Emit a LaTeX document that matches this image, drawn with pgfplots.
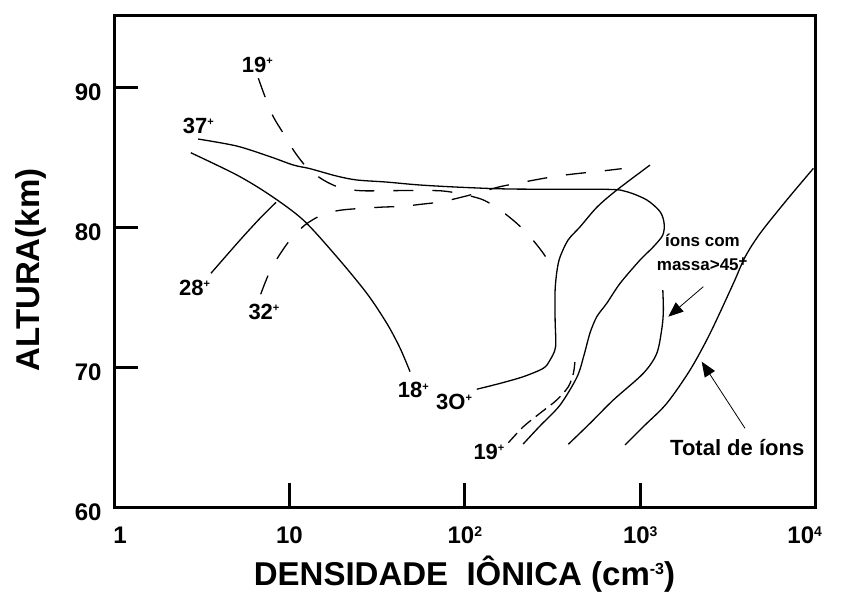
\documentclass[border=0pt]{standalone}
\usepackage{fontspec}
\setmainfont{Liberation Sans}
\usepackage{pgfplots}
\pgfplotsset{compat=1.18}
\usetikzlibrary{arrows.meta}

\newcommand\sz[1]{\fontsize{#1}{#1}\selectfont}
% ion label: bold number with a small raised plus sign
\newcommand\ion[1]{\bfseries\sz{22}#1\raisebox{7.5pt}{\sz{11}+}}

\begin{document}
\begin{tikzpicture}
\path[use as bounding box] (0pt,0pt) rectangle (841pt,-599pt);
\begin{axis}[
  at={(114pt,-507pt)}, anchor=south west,
  scale only axis, width=701.7pt, height=491.3pt,
  xmode=log, xmin=1, xmax=10000, ymin=60, ymax=95.17,
  axis line style={line width=3pt},
  xtick={1,10,100,1000,10000},
  xticklabels={{\hspace*{12pt}1},{10},{10\raisebox{7pt}{\sz{14}2}},{10\raisebox{7pt}{\sz{14}3}},{10\raisebox{7pt}{\sz{14}4}\hspace*{22pt}}},
  xminorticks=false, yminorticks=false,
  ytick={60,70,80,90}, yticklabels={60,70,80,90},
  tick align=inside, xtick pos=bottom, ytick pos=left,
  major tick length=24pt,
  tick style={black, line width=3pt},
  xticklabel style={anchor=base, inner sep=0pt, yshift=-36pt, font=\bfseries\sz{24}},
  yticklabel style={anchor=base east, inner sep=0pt, xshift=-12.3pt, yshift=-13pt, font=\bfseries\sz{24}},
  clip=false,
  cycle list={{black,solid}},
  every axis plot/.append style={line width=1.3pt, smooth, tension=0.5, no markers},
]
% 37+ : long solid curve with the loop near 10^3
\addplot coordinates {(3.02,86.34) (5.01,85.84) (7.75,85.08) (10.53,84.48) (13.1,84.22) (18.6,83.69) (24.2,83.41) (35.9,83.26) (55.5,83.05) (98.0,82.88) (189,82.76) (644,82.74) (838,82.57) (1089,81.98) (1297,81.14) (1367,80.31) (1344,79.47) (1188,78.63) (997,77.68) (767,76.01) (644,74.58) (565,73.62) (517,72.46) (478,70.88) (436,69.31) (349,67.30) (268,65.80) (215,64.51)};
% 30+
\addplot coordinates {(116.9,68.43) (158.8,68.85) (215.6,69.33) (280,69.93) (306,70.52) (329,71.47) (327,73.39) (327,75.53) (335.6,76.96) (349,77.90) (387.7,79.11) (454,80.06) (567,81.47) (735,82.69) (1137,84.48)};
% ions with mass > 45
\addplot coordinates {(1344,75.53) (1354,74.10) (1331,72.88) (1242,71.00) (1041,69.57) (702,67.66) (517,65.99) (389,64.49)};
% total ions
\addplot coordinates {(9703,84.24) (6843,81.98) (4822,79.59) (3959,77.90) (3395,76.01) (2500,72.43) (1923,69.81) (1416,67.42) (1065,65.87) (819,64.44)};
% 18+
\addplot coordinates {(2.74,85.36) (5.01,83.77) (7.75,82.33) (12.0,80.54) (18.6,77.92) (27.6,75.30) (35.9,73.15) (42.7,71.38) (48.7,69.69)};
% 28+
\addplot coordinates {(3.57,76.73) (5.23,79.11) (6.80,80.67) (8.39,81.81)};
% 19+ (upper, dashed)
\addplot+[dash pattern=on 20pt off 19pt] coordinates {(6.65,90.69) (7.26,89.37) (8.09,87.94) (9.23,86.75) (10.6,85.50) (12.55,84.32) (15.6,83.41) (19.9,82.81) (25.8,82.64) (34.2,82.64) (55.5,82.66) (75.4,82.62) (98.0,82.38) (127.5,81.98) (158.8,81.26) (197.6,80.31) (235.3,79.35) (280,78.16) (319.6,76.96)};
% 32+ (dashed)
\addplot+[dash pattern=on 20pt off 19pt] coordinates {(6.86,75.23) (7.58,76.61) (8.65,77.92) (10.08,79.11) (12.27,80.19) (15.3,80.90) (19.9,81.26) (32.9,81.46) (43.7,81.52) (58.0,81.69) (73.8,81.85) (98.0,82.21) (122.1,82.53) (158.8,82.93) (206.4,83.21) (268,83.48) (349,83.72) (454,83.89) (603,84.05) (784,84.22)};
% 19+ (lower, dashed)
\addplot+[dash pattern=on 13pt off 6pt] coordinates {(177,64.60) (215.6,65.75) (268,66.71) (334,67.66) (389,68.61) (415.6,69.57) (425,70.52)};
\end{axis}

% curve labels
\begin{scope}[every node/.style={inner sep=0pt, anchor=base west}]
\node at (241.7pt,-72.3pt) {\ion{19}};
\node at (182.7pt,-133.3pt) {\ion{37}};
\node at (179pt,-295pt) {\ion{28}};
\node at (248.3pt,-319pt) {\ion{32}};
\node at (397.7pt,-397.7pt) {\ion{18}};
\node at (436pt,-409.3pt) {\ion{3O}};
\node at (473.3pt,-459pt) {\ion{19}};
\node at (665pt,-246.7pt) {\bfseries\sz{17}íons com};
\node at (656.7pt,-270.7pt) {\bfseries\sz{17}massa>45\raisebox{4pt}{\sz{15}+}};
\node at (670pt,-455pt) {\bfseries\sz{22}Total de íons};
\end{scope}

% pointers
\draw[line width=0.8pt, -{Triangle[length=15pt,width=12pt]}] (703.3pt,-286.7pt) -- (668.3pt,-316.7pt);
\draw[line width=0.8pt, -{Triangle[length=15pt,width=12pt]}] (745pt,-428.3pt) -- (701.7pt,-361.7pt);

% axis titles
\node[anchor=base, inner sep=0pt, font=\bfseries\sz{33}] at (464.5pt,-585pt) {DENSIDADE\ \ IÔNICA (cm\raisebox{11pt}{\sz{16}-3})};
\node[rotate=90, anchor=base, inner sep=0pt, font=\bfseries\sz{33}] at (39.3pt,-270pt) {ALTURA(km)};
\end{tikzpicture}
\end{document}
